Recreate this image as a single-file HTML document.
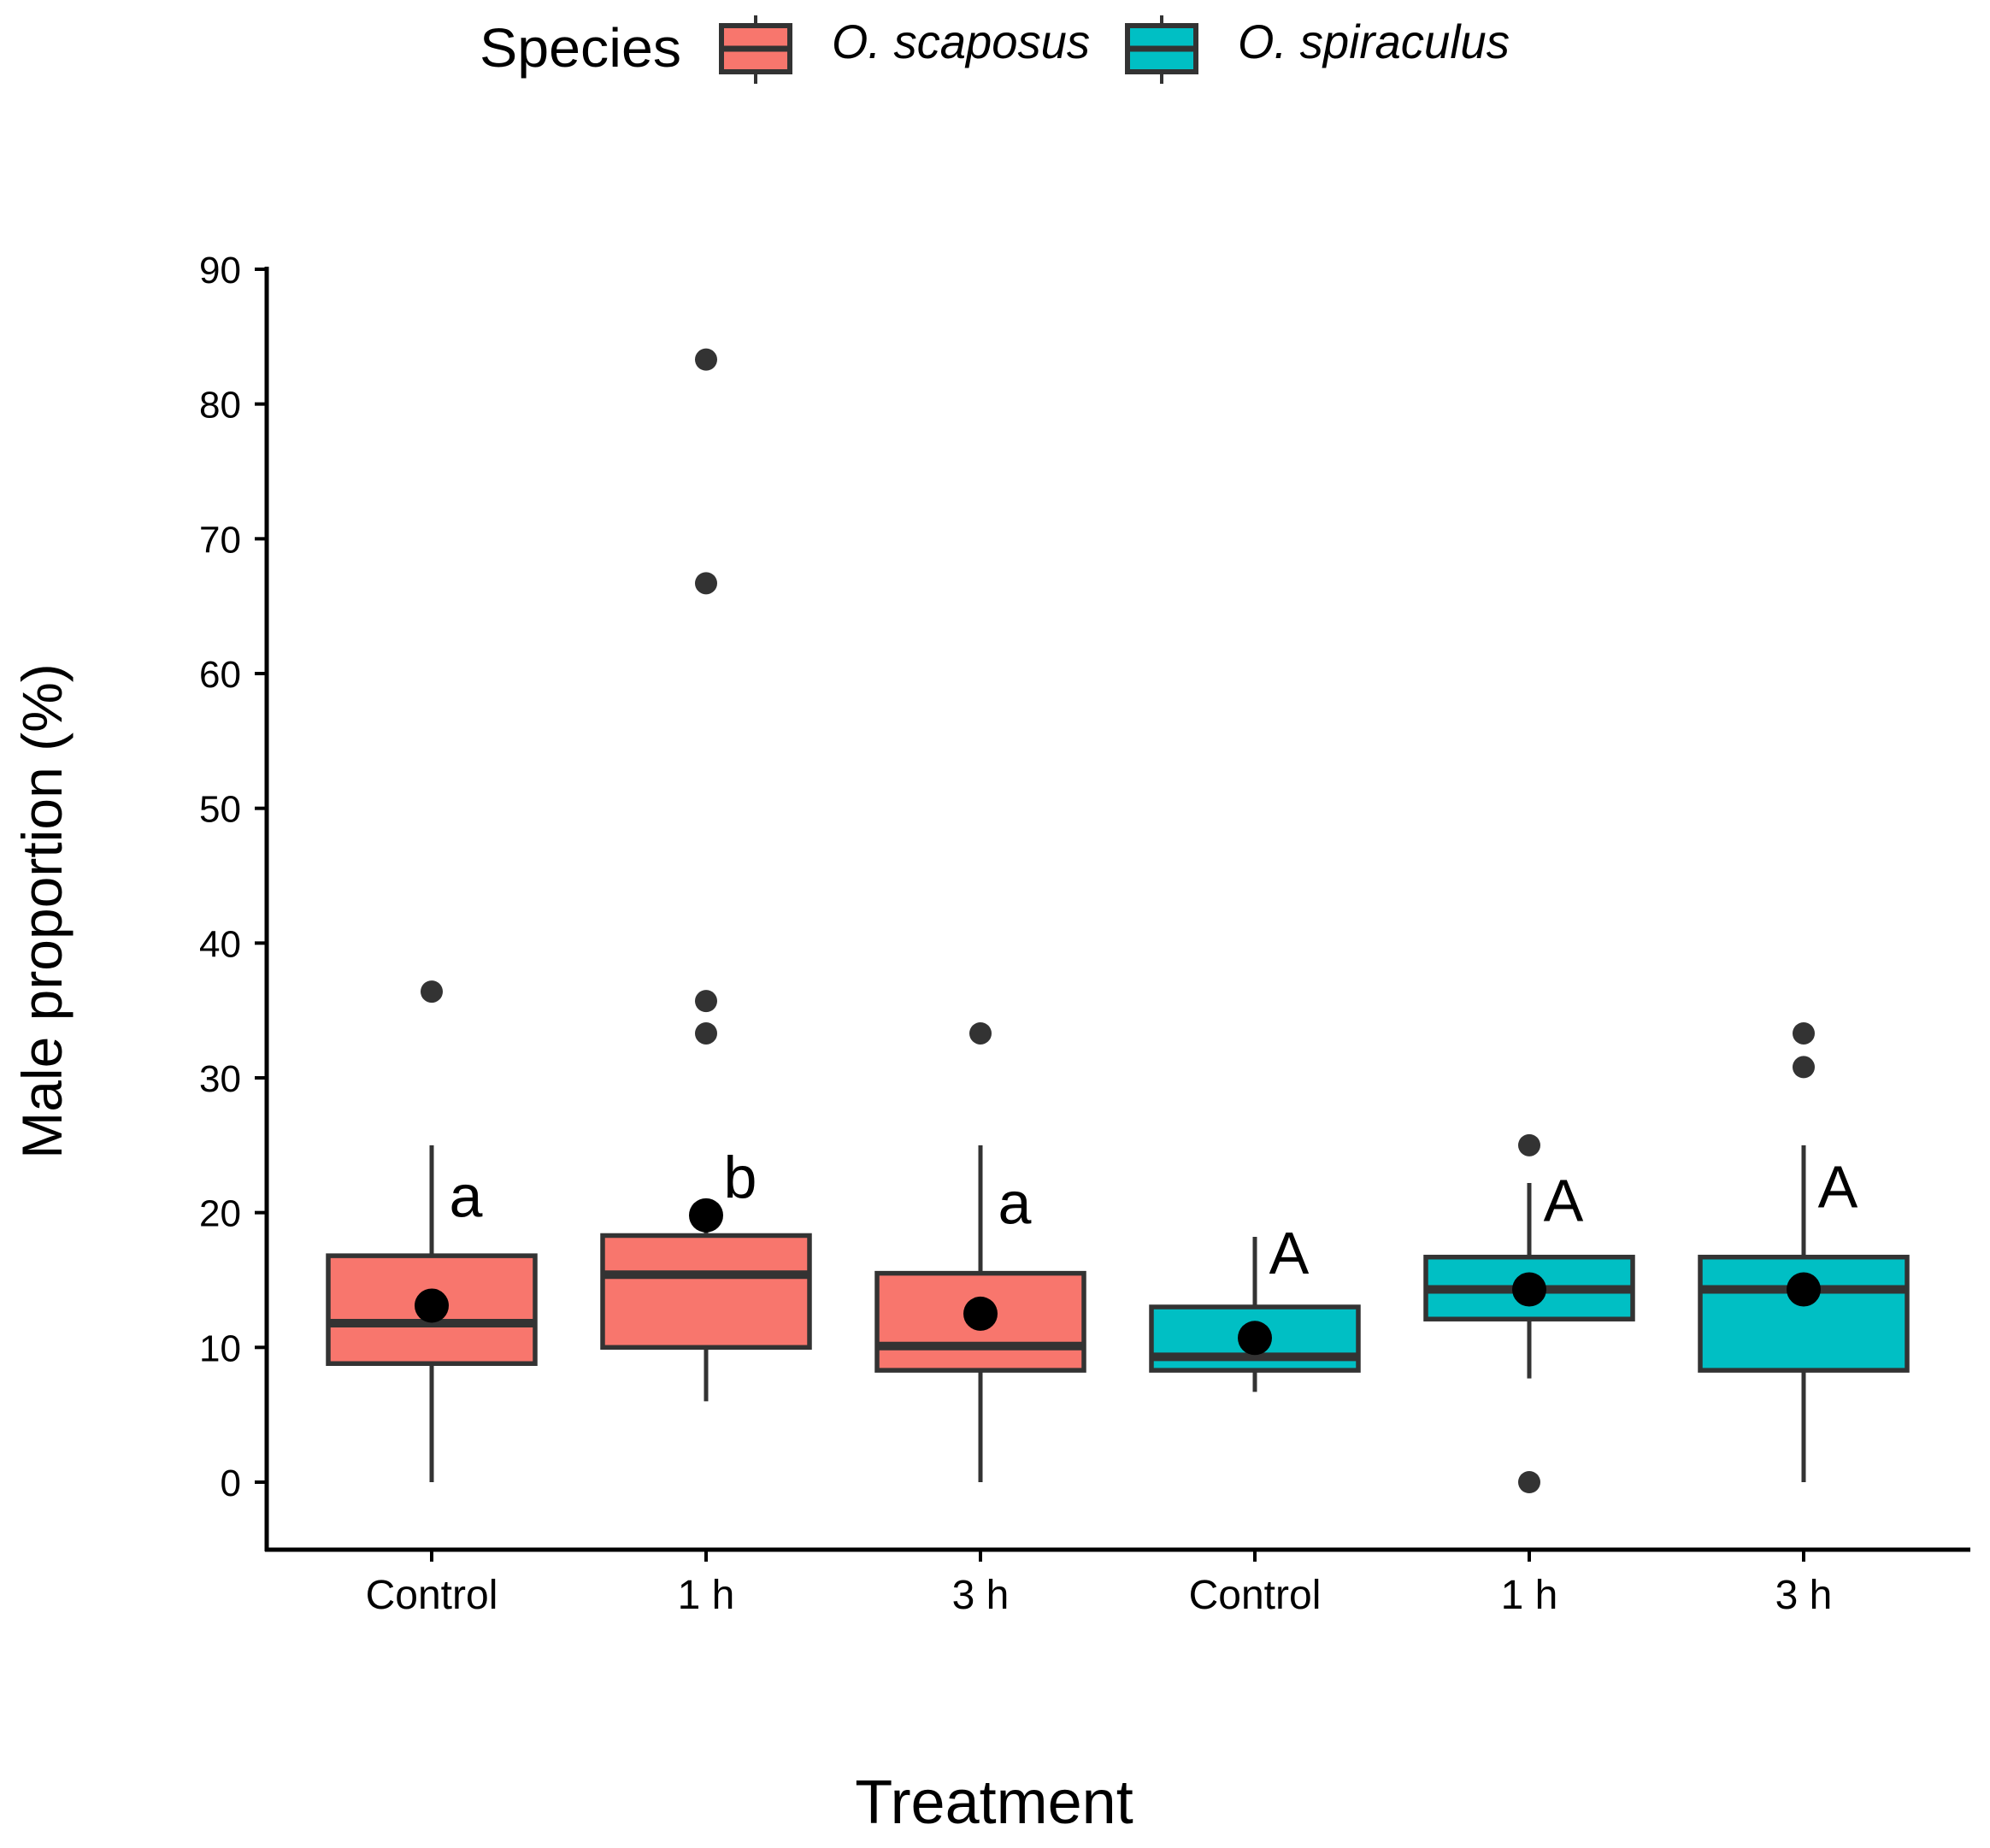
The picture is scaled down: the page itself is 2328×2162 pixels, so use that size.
<!DOCTYPE html>
<html><head><meta charset="utf-8"><style>
html,body{margin:0;padding:0;background:#fff;}
svg{display:block;font-family:"Liberation Sans",Arial,sans-serif;}
</style></head><body>
<svg id="chart" width="2328" height="2162" viewBox="0 0 2328 2162" xmlns="http://www.w3.org/2000/svg">
<g>
<text x="561" y="78" font-size="64" fill="#000" textLength="236" lengthAdjust="spacingAndGlyphs">Species</text>
<g>
<line x1="884" y1="18" x2="884" y2="98" stroke="#333" stroke-width="4"/>
<rect x="844" y="30" width="80" height="54" fill="#F8766D" stroke="#333" stroke-width="6"/>
<line x1="844" y1="57" x2="924" y2="57" stroke="#333" stroke-width="7"/>
<text x="973" y="68" font-size="56" font-style="italic" fill="#000" textLength="302" lengthAdjust="spacingAndGlyphs">O. scaposus</text>
</g>
<g>
<line x1="1359" y1="18" x2="1359" y2="98" stroke="#333" stroke-width="4"/>
<rect x="1319" y="30" width="80" height="54" fill="#00BFC4" stroke="#333" stroke-width="6"/>
<line x1="1319" y1="57" x2="1399" y2="57" stroke="#333" stroke-width="7"/>
<text x="1448" y="68" font-size="56" font-style="italic" fill="#000" textLength="318" lengthAdjust="spacingAndGlyphs">O. spiraculus</text>
</g>
</g>
<g id="plot"></g>
<text x="0" y="0" transform="translate(72,1066) rotate(-90)" text-anchor="middle" font-size="66" fill="#000">Male proportion (%)</text>
<text x="1163" y="2133" text-anchor="middle" font-size="72" fill="#000">Treatment</text>
</svg>
<script>
const categories = ["Control","1 h","3 h","Control","1 h","3 h"];
const species = ["scaposus","scaposus","scaposus","spiraculus","spiraculus","spiraculus"];
const whiskerLow = [0,6,0,6.7,7.7,0];
const q1 = [8.8,10,8.3,8.3,12.1,8.3];
const medians = [11.8,15.4,10.1,9.3,14.3,14.3];
const q3 = [16.8,18.3,15.5,13,16.7,16.7];
const whiskerHigh = [25,21,25,18.2,22.2,25];
const means = [13.1,19.8,12.5,10.7,14.3,14.3];
const outliers = [[36.4],[83.3,66.7,35.7,33.3],[33.3],[],[25,0],[33.3,30.8]];
const letters = ["a","b","a","A","A","A"];
const letterY = [21.2,22.6,20.7,17.0,20.9,21.9];
const yTicks = [0,10,20,30,40,50,60,70,80,90];

const NS="http://www.w3.org/2000/svg";
const g=document.getElementById('plot');
const y=v=>1734-(v/90)*(1734-315);
const x=i=>505+i*321;
const bw=242;
function mk(tag,attrs,parent){const e=document.createElementNS(NS,tag);for(const k in attrs)e.setAttribute(k,attrs[k]);(parent||g).appendChild(e);return e;}
const ax=mk('g',{});


mk('line',{x1:312,y1:312,x2:312,y2:1815,stroke:'#000','stroke-width':5},ax);
mk('line',{x1:310,y1:1813,x2:2305,y2:1813,stroke:'#000','stroke-width':5},ax);
yTicks.forEach(t=>{
  const tg=mk('g',{},ax);
  
  
  mk('line',{x1:298,y1:y(t),x2:312,y2:y(t),stroke:'#000','stroke-width':4},tg);
  const tx=mk('text',{x:282,y:y(t)+16,'text-anchor':'end','font-size':44,fill:'#000'},tg);tx.textContent=t;
});
categories.forEach((c,i)=>{
  const tg=mk('g',{},ax);
  
  
  mk('line',{x1:x(i),y1:1813,x2:x(i),y2:1827,stroke:'#000','stroke-width':4},tg);
  const tx=mk('text',{x:x(i),y:1882,'text-anchor':'middle','font-size':48,fill:'#000'},tg);tx.textContent=c;
});
categories.forEach((c,i)=>{
  const bg=mk('g',{});
  
  
  const fill=species[i]==='scaposus'?'#F8766D':'#00BFC4';
  mk('line',{x1:x(i),y1:y(whiskerLow[i]),x2:x(i),y2:y(whiskerHigh[i]),stroke:'#333','stroke-width':5},bg);
  mk('rect',{x:x(i)-bw/2,y:y(q3[i]),width:bw,height:y(q1[i])-y(q3[i]),fill:fill,stroke:'#333','stroke-width':5.5},bg);
  mk('line',{x1:x(i)-bw/2,y1:y(medians[i]),x2:x(i)+bw/2,y2:y(medians[i]),stroke:'#333','stroke-width':10},bg);
  outliers[i].forEach(o=>{
    const p=mk('circle',{cx:x(i),cy:y(o),r:13,fill:'#333'},bg);
    
    
  });
  const m=mk('circle',{cx:x(i),cy:y(means[i]),r:20,fill:'#000'},bg);
  
  
  const l=mk('text',{x:x(i)+40,y:y(letterY[i])+24,'text-anchor':'middle','font-size':70,fill:'#000'},bg);
  
  
  l.textContent=letters[i];
});
</script>
</body></html>
